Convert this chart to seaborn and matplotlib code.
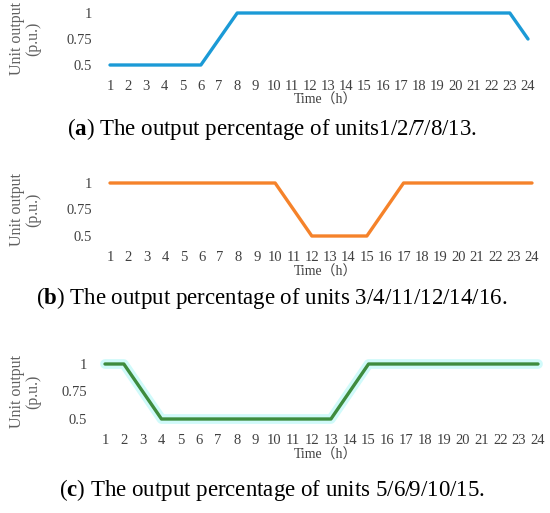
import seaborn as sns
import numpy as np
import matplotlib.pyplot as plt
import pandas as pd

hours = list(range(1, 25))
units_a = [0.5, 0.5, 0.5, 0.5, 0.5, 0.5, 0.75, 1, 1, 1, 1, 1,
           1, 1, 1, 1, 1, 1, 1, 1, 1, 1, 1, 0.75]
units_b = [1, 1, 1, 1, 1, 1, 1, 1, 1, 1, 0.75, 0.5,
           0.5, 0.5, 0.5, 0.75, 1, 1, 1, 1, 1, 1, 1, 1]
units_c = [1, 1, 0.75, 0.5, 0.5, 0.5, 0.5, 0.5, 0.5, 0.5, 0.5, 0.5,
           0.5, 0.75, 1, 1, 1, 1, 1, 1, 1, 1, 1, 1]
y_ticks = [0.5, 0.75, 1]
y_tick_labels = ['0.5', '0.75', '1']
captions = [('a', ' The output percentage of units1/2/7/8/13.'),
            ('b', ' The output percentage of units 3/4/11/12/14/16.'),
            ('c', ' The output percentage of units 5/6/9/10/15.')]

sns.set_style("white")
plt.rcParams['font.family'] = ['Liberation Serif', 'Noto Sans CJK SC']
plt.rcParams['mathtext.fontset'] = 'custom'
plt.rcParams['mathtext.bf'] = 'Liberation Serif:bold'
plt.rcParams['mathtext.rm'] = 'Liberation Serif'

W, H = 550, 513
fig = plt.figure(figsize=(5.5, 5.13), dpi=100)

# pixel geometry: (x of hour 1, x of hour 24, y of 1.0, y of 0.5)
panels = [
    (units_a, '#1b9ad6', (110, 528, 13, 65), 100, 129),
    (units_b, '#f5822a', (110, 532, 183, 236), 272, 298),
    (units_c, '#3e8c3e', (105, 538, 364, 419), 455, 490),
]

for i, (vals, color, (x0, x1, y1, y0), time_y, cap_y) in enumerate(panels):
    ax = fig.add_axes([x0 / W, 1 - y0 / H, (x1 - x0) / W, (y0 - y1) / H])
    df = pd.DataFrame({'hour': hours, 'output': vals})
    if i == 2:
        sns.lineplot(data=df, x='hour', y='output', ax=ax, color='#d0fafa',
                     linewidth=7, clip_on=False)
    sns.lineplot(data=df, x='hour', y='output', ax=ax, color=color,
                 linewidth=2.4, clip_on=False)
    ax.set_xlim(1, 24)
    ax.set_ylim(0.5, 1)
    ax.set_xticks(hours)
    ax.set_xticklabels([str(h) for h in hours])
    ax.set_yticks(y_ticks)
    ax.set_yticklabels(y_tick_labels)
    ax.tick_params(axis='x', length=0, pad=11, labelsize=10.5, labelcolor='#404040')
    ax.tick_params(axis='y', length=0, pad=13, labelsize=10.5, labelcolor='#404040')
    ax.set_xlabel('')
    ax.set_ylabel('')
    for s in ax.spines.values():
        s.set_visible(False)
    ax.patch.set_alpha(0)

    fig.text(325 / W, 1 - time_y / H, 'Time（h）', ha='center', va='center',
             fontsize=10, color='#404040')
    fig.text(25 / W, 1 - (y1 + y0) / 2 / H, 'Unit output\n(p.u.)', ha='center',
             va='center', rotation=90, fontsize=11.5, color='#606060',
             linespacing=1.05)
    letter, rest = captions[i]
    fig.text(272 / W, 1 - cap_y / H, '(' + r'$\mathbf{' + letter + '}$' + ')' + rest,
             ha='center', va='center', fontsize=16.5, color='black')

plt.savefig('out.png', dpi=100)
